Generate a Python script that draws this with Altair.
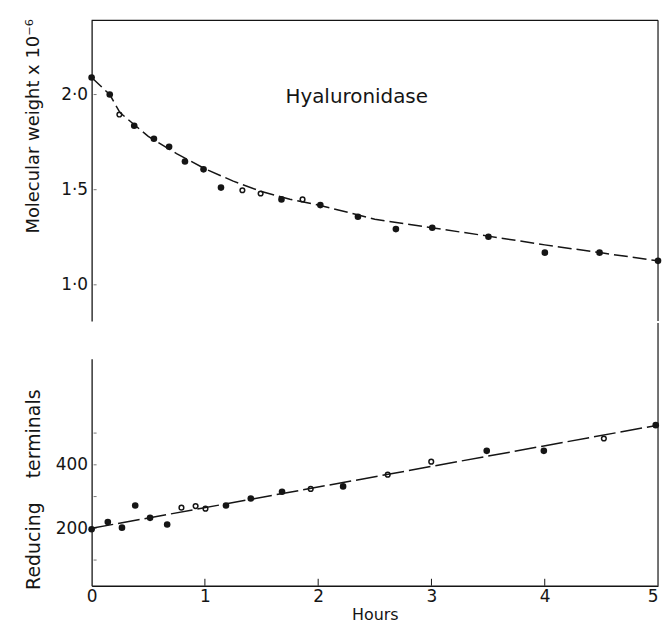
import altair as alt
import pandas as pd

# ---- Top panel: molecular weight (x 10^-6) vs hours ----
mw_hours = [0.0, 0.16, 0.245, 0.376, 0.55, 0.684, 0.824, 0.988, 1.142, 1.331, 1.492,
            1.676, 1.862, 2.019, 2.351, 2.686, 3.007, 3.503, 4.001, 4.484, 5.0]
mw_values = [2.09, 2.0, 1.895, 1.836, 1.768, 1.726, 1.648, 1.607, 1.511, 1.497, 1.48,
             1.449, 1.449, 1.419, 1.358, 1.293, 1.30, 1.253, 1.169, 1.169, 1.126]
mw_open = [False, False, True, False, False, False, False, False, False, True, True,
           False, True, False, False, False, False, False, False, False, False]

# fitted curve drawn through the points
mw_curve_hours = [0.0, 0.16, 0.25, 0.5, 0.75, 1.0, 1.25, 1.5, 1.75, 2.0, 2.5, 3.0, 3.5, 4.0, 4.5, 5.0]
mw_curve_values = [2.09, 2.0, 1.905, 1.78, 1.69, 1.61, 1.545, 1.49, 1.45, 1.42, 1.345, 1.30,
                   1.256, 1.21, 1.168, 1.126]

# ---- Bottom panel: reducing terminals vs hours ----
rt_hours = [0.0, 0.143, 0.268, 0.385, 0.516, 0.667, 0.793, 0.918, 1.005, 1.186, 1.405,
            1.681, 1.934, 2.22, 2.614, 2.998, 3.488, 3.992, 4.522, 4.98]
rt_values = [197, 220, 202, 272, 233, 212, 265, 270, 262, 272, 294,
             315, 324, 332, 369, 410, 444, 444, 483, 525]
rt_open = [False, False, False, False, False, False, True, True, True, False, False,
           False, True, False, True, True, False, False, True, False]

rt_line_hours = [0.0, 5.0]
rt_line_values = [200, 525]

x_ticks = [0, 1, 2, 3, 4, 5]
x_inner_ticks = [1, 2, 3, 4]
mw_ticks = [1.0, 1.5, 2.0]
rt_ticks = [200, 400]
rt_minor_ticks = [100, 200, 300, 400, 500]

INK = "#151515"
FONT = "DejaVu Sans"
W = 569
H_TOP = 302
H_BOT = 228
GAP = 36

mw_df = pd.DataFrame({"hours": mw_hours, "value": mw_values, "open": mw_open})
mw_curve_df = pd.DataFrame({"hours": mw_curve_hours, "value": mw_curve_values})
rt_df = pd.DataFrame({"hours": rt_hours, "value": rt_values, "open": rt_open})
rt_line_df = pd.DataFrame({"hours": rt_line_hours, "value": rt_line_values})
one = pd.DataFrame({"a": [0]})

xscale = alt.Scale(domain=[0, 5], nice=False, zero=False)

# ---------------- top chart ----------------
x_top = alt.X("hours:Q", scale=xscale, axis=None)
y_top = alt.Y(
    "value:Q",
    scale=alt.Scale(domain=[0.81, 2.39], nice=False, zero=False),
    axis=alt.Axis(
        values=mw_ticks, format=".1f",
        labelExpr="replace(datum.label, '.', '·')",
        title="Molecular weight x 10⁻⁶",
        titleX=-58, titleY=106, titleAngle=-90,
        titleBaseline="middle", titleAlign="center", titleFontSize=18,
        ticks=False, tickSize=0, labelPadding=4,
        grid=False,
    ),
)

top_line = alt.Chart(mw_curve_df).mark_line(
    color=INK, strokeWidth=1.5, strokeDash=[14, 5]
).encode(x=x_top, y=y_top)

top_filled = alt.Chart(mw_df).transform_filter("!datum.open").mark_circle(
    color=INK, size=44, opacity=1
).encode(x=x_top, y=y_top)

top_open = alt.Chart(mw_df).transform_filter("datum.open").mark_point(
    color=INK, size=22, strokeWidth=1.5, filled=False, opacity=1
).encode(x=x_top, y=y_top)

top_minor = alt.Chart(pd.DataFrame({"value": mw_ticks})).mark_rule(
    color="#777", strokeWidth=1
).encode(x=alt.value(2), x2=alt.value(5), y=y_top)

top_label = alt.Chart(pd.DataFrame({"hours": [2.34], "value": [1.985], "t": ["Hyaluronidase"]})).mark_text(
    font=FONT, fontSize=20, color=INK, align="center", baseline="middle"
).encode(x=x_top, y=y_top, text="t:N")

top_border = alt.Chart(one).mark_rule(color=INK, strokeWidth=1.2).encode(
    x=alt.value(0), x2=alt.value(W), y=alt.value(0)
)
top_right = alt.Chart(one).mark_rule(color=INK, strokeWidth=1.2).encode(
    x=alt.value(W), y=alt.value(0), y2=alt.value(H_TOP)
)

top = alt.layer(
    top_border, top_right, top_minor, top_line, top_filled, top_open, top_label
).properties(width=W, height=H_TOP)

# ---------------- bottom chart ----------------
x_bot = alt.X(
    "hours:Q", scale=xscale,
    axis=alt.Axis(
        values=x_ticks, format="d", title="Hours",
        labelAlign=alt.ExprRef("datum.value == 5 ? 'right' : 'center'"),
        ticks=False, tickSize=0, labelPadding=3, titlePadding=2,
        titleFontSize=16,
        grid=False,
    ),
)
y_bot = alt.Y(
    "value:Q",
    scale=alt.Scale(domain=[19, 734], nice=False, zero=False),
    axis=alt.Axis(
        values=rt_ticks, format="d",
        title="Reducing\u00a0\u00a0\u00a0\u00a0terminals",
        titleX=-58, titleY=131, titleAngle=-90,
        titleBaseline="middle", titleAlign="center", titleFontSize=19,
        ticks=False, tickSize=0, labelPadding=4,
        grid=False,
    ),
)

bot_line = alt.Chart(rt_line_df).mark_line(
    color=INK, strokeWidth=1.5, strokeDash=[22, 5]
).encode(x=x_bot, y=y_bot)

bot_filled = alt.Chart(rt_df).transform_filter("!datum.open").mark_circle(
    color=INK, size=44, opacity=1
).encode(x=x_bot, y=y_bot)

bot_open = alt.Chart(rt_df).transform_filter("datum.open").mark_point(
    color=INK, size=22, strokeWidth=1.5, filled=False, opacity=1
).encode(x=x_bot, y=y_bot)

bot_minor = alt.Chart(pd.DataFrame({"value": rt_minor_ticks})).mark_rule(
    color="#777", strokeWidth=1
).encode(x=alt.value(2), x2=alt.value(5), y=y_bot)

bot_xticks = alt.Chart(pd.DataFrame({"hours": x_inner_ticks})).mark_rule(
    color=INK, strokeWidth=1
).encode(x=x_bot, y=alt.value(H_BOT), y2=alt.value(H_BOT - 7))

bot_right = alt.Chart(one).mark_rule(color=INK, strokeWidth=1.2).encode(
    x=alt.value(W), y=alt.value(-GAP), y2=alt.value(H_BOT)
)

bottom = alt.layer(
    bot_right, bot_minor, bot_xticks, bot_line, bot_filled, bot_open
).properties(width=W, height=H_BOT)

chart = alt.vconcat(top, bottom, spacing=0).properties(
    padding={"left": 16, "top": 9, "right": 0, "bottom": 0}
).configure_view(stroke=None).configure_axis(
    domainColor=INK, domainWidth=1.3,
    labelFont=FONT, labelFontSize=17, labelColor=INK,
    titleFont=FONT, titleFontSize=17, titleColor=INK, titleFontWeight="normal",
)

chart.save("out.html", embed_options={"renderer": "svg", "actions": False})
